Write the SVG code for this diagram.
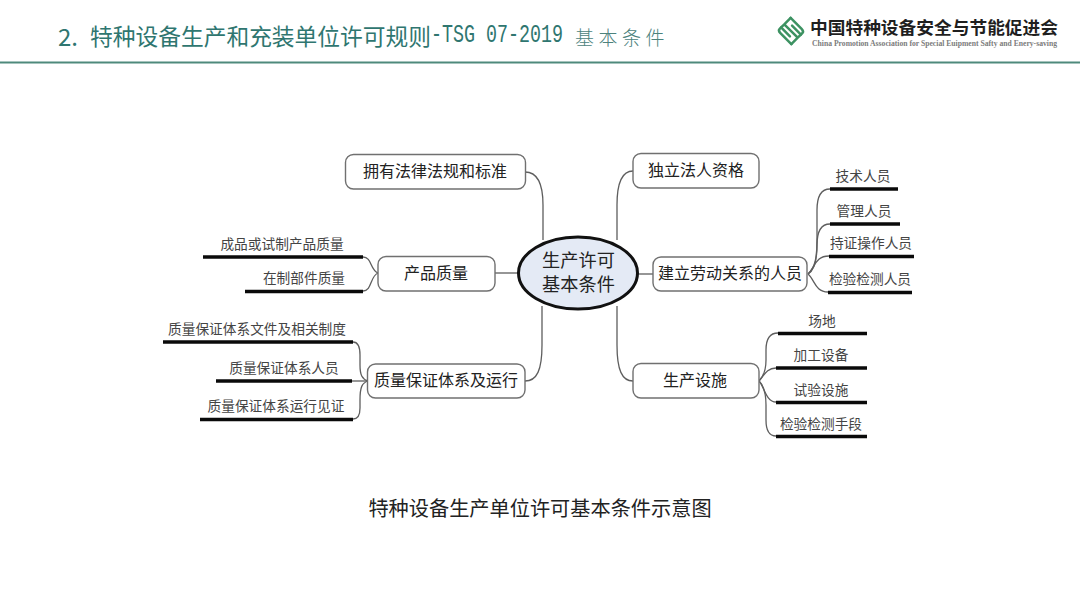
<svg xmlns="http://www.w3.org/2000/svg" width="1080" height="608" viewBox="0 0 1080 608">
<style>
text{font-family:"Noto Sans CJK SC","Liberation Sans",sans-serif;fill:#3a3a3a;text-anchor:middle;dominant-baseline:central}
.box{fill:#fff;stroke:#707070;stroke-width:1.4}
.con{fill:none;stroke:#5e5e5e;stroke-width:1.3}
.bar{fill:none;stroke:#0a0a0a;stroke-width:3.6}
.n{font-size:16px;fill:#222}
.l{font-size:13.7px;fill:#444}
.t{fill:#2f7670;text-anchor:start}
</style>
<rect width="1080" height="608" fill="#fff"/>
<g id="header">
<text class="t" x="58" y="35.500" font-size="24">2.</text>
<text class="t" x="90" y="35.500" font-size="22.700" textLength="341" lengthAdjust="spacingAndGlyphs">特种设备生产和充装单位许可规则</text>
<text class="t" transform="translate(431 35.500) scale(.733 1)" x="0" y="0" font-size="25" style="font-family:'Liberation Mono',monospace">-TSG 07-2019</text>
<text class="t" x="575" y="36" font-size="19" letter-spacing="4.500" style="fill:#4c827c;font-weight:300">基本条件</text>
<line x1="0" y1="62.500" x2="1080" y2="62.500" stroke="#4f8a7c" stroke-width="2"/>
</g>
<g id="logo">
<g transform="translate(791 31) rotate(45)" fill="none" stroke="#3d9262" stroke-width="2.500" stroke-linecap="round" stroke-linejoin="round">
<path d="M-9.500 -9H6Q9.500 -9 9.500 -6.500V-4.500H-3"/>
<path d="M9.500 9H-6Q-9.500 9 -9.500 6.500V4.500H3"/>
<path d="M-9.500 -9V0H9.500V-4.500M-9.500 0V4.500M9.500 0V9"/>
</g>
<text x="934" y="26.500" font-size="17" font-weight="700" style="font-family:'Noto Sans CJK SC',serif;fill:#1f1f1f" textLength="248" lengthAdjust="spacingAndGlyphs">中国特种设备安全与节能促进会</text>
<text x="934.500" y="43.500" font-size="7.500" font-weight="700" style="font-family:'Liberation Serif',serif;fill:#7c7c7c" textLength="245" lengthAdjust="spacingAndGlyphs">China Promotion Association for Special Euipment Safty and Enery-saving</text>
</g>
<g id="connectors">
<path class="con" d="M525 172C537 172 543 182 543 205V240"/>
<path class="con" d="M525 381C537 381 542 370 542 345V306"/>
<path class="con" d="M633 171C622 171 617 182 617 205V240"/>
<path class="con" d="M633 381C622 381 617 370 617 345V306"/>
<path class="con" d="M495 273H520"/>
<path class="con" d="M636 274H653"/>
<path class="con" d="M378 273C370 270 372 257 363 257"/>
<path class="con" d="M378 273C370 276 372 291 363 291"/>
<path class="con" d="M368 381C362 379 360 375 360 365V355Q360 342 353 342"/>
<path class="con" d="M352 381H368"/>
<path class="con" d="M368 381C362 383 360 387 360 400V408Q360 419 353 419"/>
<path class="con" d="M808 274C815 268 817 258 817 240V210Q817 189 830 189"/>
<path class="con" d="M808 274C815 270 817 260 817 245Q817 224 830 224"/>
<path class="con" d="M808 274C815 268 815 256 829 256"/>
<path class="con" d="M808 274C815 280 815 292 828 292"/>
<path class="con" d="M759 381C763 377 766 370 766 360V350Q766 333 778 333"/>
<path class="con" d="M759 381C764 376 766 368 776 368"/>
<path class="con" d="M759 381C764 386 766 402 776 402"/>
<path class="con" d="M759 381C763 385 766 392 766 405V420Q766 436 776 436"/>
</g>
<g id="center"><ellipse cx="578" cy="273" rx="59.500" ry="36" fill="#e4eaf5" stroke="#111" stroke-width="3"/>
<text x="578.500" y="259" font-size="18.200" style="fill:#222">生产许可</text><text x="578.500" y="283" font-size="18.200" style="fill:#222">基本条件</text></g>
<g id="n-law"><rect class="box" x="345.500" y="154.500" width="180" height="34.500" rx="8"/><text class="n" x="435" y="170">拥有法律法规和标准</text></g>
<g id="n-quality"><rect class="box" x="378" y="256.500" width="117" height="34.500" rx="8"/><text class="n" x="436" y="272">产品质量</text></g>
<g id="n-system"><rect class="box" x="367.500" y="364" width="157.500" height="34" rx="8"/><text class="n" x="446" y="379">质量保证体系及运行</text></g>
<g id="n-legal"><rect class="box" x="633" y="153.500" width="126" height="34.500" rx="8"/><text class="n" x="696" y="169">独立法人资格</text></g>
<g id="n-staff"><rect class="box" x="653" y="257" width="154" height="34" rx="8"/><text class="n" x="730" y="272">建立劳动关系的人员</text></g>
<g id="n-facility"><rect class="box" x="633" y="363.500" width="126" height="34.500" rx="8"/><text class="n" x="695" y="379">生产设施</text></g>
<g id="l1"><line class="bar" x1="203" y1="257" x2="363" y2="257"/><text class="l" x="282" y="242.500">成品或试制产品质量</text></g>
<g id="l2"><line class="bar" x1="245" y1="291.500" x2="363" y2="291.500"/><text class="l" x="304" y="277">在制部件质量</text></g>
<g id="l3"><line class="bar" x1="163" y1="342" x2="353" y2="342"/><text class="l" x="257" y="328">质量保证体系文件及相关制度</text></g>
<g id="l4"><line class="bar" x1="216" y1="381" x2="352" y2="381"/><text class="l" x="284" y="367">质量保证体系人员</text></g>
<g id="l5"><line class="bar" x1="200" y1="419.500" x2="353" y2="419.500"/><text class="l" x="276" y="405">质量保证体系运行见证</text></g>
<g id="r1"><line class="bar" x1="830" y1="189" x2="898" y2="189"/><text class="l" x="863" y="175">技术人员</text></g>
<g id="r2"><line class="bar" x1="830" y1="224" x2="900" y2="224"/><text class="l" x="864" y="209.500">管理人员</text></g>
<g id="r3"><line class="bar" x1="829" y1="256.500" x2="914" y2="256.500"/><text class="l" x="871" y="242">持证操作人员</text></g>
<g id="r4"><line class="bar" x1="828" y1="292.500" x2="912" y2="292.500"/><text class="l" x="870" y="278">检验检测人员</text></g>
<g id="r5"><line class="bar" x1="778" y1="333.500" x2="867" y2="333.500"/><text class="l" x="822" y="320">场地</text></g>
<g id="r6"><line class="bar" x1="776" y1="368" x2="867" y2="368"/><text class="l" x="821" y="354">加工设备</text></g>
<g id="r7"><line class="bar" x1="776" y1="402.500" x2="867" y2="402.500"/><text class="l" x="821" y="388.500">试验设施</text></g>
<g id="r8"><line class="bar" x1="776" y1="436.500" x2="867" y2="436.500"/><text class="l" x="821" y="423">检验检测手段</text></g>
<text x="540" y="507" font-size="20.200" style="fill:#222">特种设备生产单位许可基本条件示意图</text>
</svg>
